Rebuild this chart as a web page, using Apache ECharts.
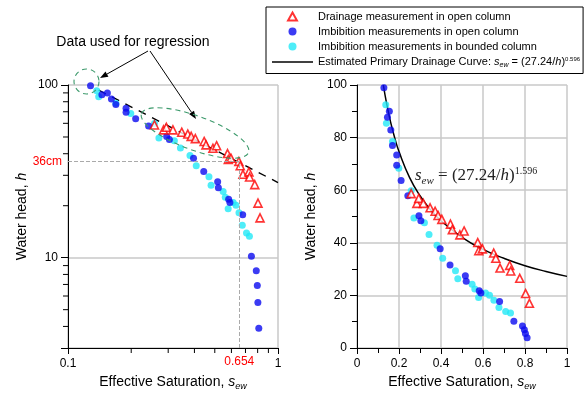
<!DOCTYPE html>
<html><head><meta charset="utf-8">
<script src="https://cdn.jsdelivr.net/npm/echarts@6/dist/echarts.min.js"></script>
<style>html,body{margin:0;padding:0;background:#fff}#c{width:584px;height:394px}</style>
</head><body><div id="c"></div>
<script>
// ---- data (effective saturation s_ew, water head h) ----
const drainageOpen = [[0.258,58.7],[0.285,55],[0.294,56.9],[0.316,55],[0.348,53.3],[0.372,52],[0.386,50.4],[0.404,48.9],[0.445,47.1],[0.454,45],[0.49,43],[0.51,44.5],[0.575,40.1],[0.58,37],[0.597,37.7],[0.651,36.1],[0.661,34.1],[0.681,30.4],[0.727,31.4],[0.732,29.3],[0.775,26.5],[0.803,20.7],[0.821,17]];
const imbibitionOpen = [[0.128,99],[0.145,87.7],[0.154,90],[0.161,82.9],[0.169,77],[0.189,73.4],[0.189,69.5],[0.21,63.7],[0.242,57.9],[0.295,50.3],[0.304,48.4],[0.396,37.7],[0.443,31.6],[0.516,27.5],[0.52,25.4],[0.582,21.8],[0.59,20.9],[0.679,17.7],[0.747,10.2],[0.788,8.4],[0.797,6.9],[0.802,5.5],[0.81,3.9]];
const imbibitionBounded = [[0.137,92.5],[0.14,85.5],[0.169,78.5],[0.199,68.3],[0.258,59.8],[0.271,49.4],[0.321,47.6],[0.343,43.2],[0.381,39.1],[0.408,34.1],[0.469,29.4],[0.48,26.3],[0.548,24.2],[0.561,22.4],[0.579,19.2],[0.612,20.9],[0.631,20.1],[0.652,18.2],[0.676,15.4],[0.708,13.9],[0.731,13.3]];
// estimated primary drainage curve
const curveS = [0.1255,0.14,0.16,0.18,0.2,0.25,0.3,0.35,0.4,0.5,0.6,0.7,0.8,0.9,1.0];
const curveH = [100,93.4,85.9,79.8,74.7,64.9,57.9,52.6,48.4,42.1,37.5,34.1,31.3,29.1,27.24];
const regressionS = [0.14,1.0];
const regressionH = [93.4,27.24];
const refH = 36, refS = 0.654;
// ticks / labels
const logXLabels = [0.1,1];
const logYLabels = [10,100];
const logXMinorTicks = [0.2,0.3,0.4,0.5,0.6,0.7,0.8,0.9];
const logYMinorTicks = [4,5,6,7,8,9,20,30,40,50,60,70,80,90];
const linXTicks = [0,0.2,0.4,0.6,0.8,1];
const linYTicks = [0,20,40,60,80,100];

const N1='Drainage measurement in open column';
const N2='Imbibition measurements in open column';
const N3='Imbibition measurements in bounded column';
const N4='Estimated Primary Drainage Curve';
const FONT='Liberation Sans, Arial, sans-serif';
const SERIF='Liberation Serif, Times New Roman, serif';
const RED='#ff0000', BLUE='#0a0af0', CYAN='#22e8f6', GRID='#c8c8c8';

const chart = echarts.init(document.getElementById('c'), null, {renderer:'canvas'});

const richName = {
  t:{fontSize:14,fontFamily:FONT,color:'#000'},
  i:{fontSize:14,fontFamily:FONT,fontStyle:'italic',color:'#000'},
  sub:{fontSize:9,fontFamily:FONT,fontStyle:'italic',color:'#000',padding:[9,0,0,0]}
};
const isIn = (arr,v)=>arr.some(t=>Math.abs(t-v)<1e-9*Math.max(1,t));

function scatter(name, data, xi, kind){
  const s = {type:'scatter', name, data, xAxisIndex:xi, yAxisIndex:xi, silent:true};
  if (kind==='tri'){ s.symbol='triangle'; s.symbolSize=8; s.itemStyle={color:'#fff', borderColor:RED, borderWidth:1.6}; s.z=4; }
  else { s.symbol='circle'; s.symbolSize=7; s.itemStyle={color: kind==='blue'?BLUE:CYAN}; s.z = kind==='blue'?3:2; }
  return s;
}
const zip = (a,b)=>a.map((v,i)=>[v,b[i]]);

const axisCommon = {
  axisLine:{show:true, onZero:false, lineStyle:{color:'#000', width:1}},
  axisTick:{show:true, inside:false, length:7, lineStyle:{color:'#000'}},
  axisLabel:{color:'#000', fontSize:12, fontFamily:FONT, margin:10},
  splitLine:{show:true, lineStyle:{color:GRID, width:1.5}},
  nameLocation:'middle', nameTextStyle:{rich:richName}
};

const option = {
  animation:false,
  backgroundColor:'#fff',
  textStyle:{fontFamily:FONT},
  grid:[
    {left:68, top:85, width:210, height:263, outerBoundsMode:'none', containLabel:false},
    {left:357, top:85, width:210, height:263, outerBoundsMode:'none', containLabel:false}
  ],
  legend:{
    orient:'vertical', left:266, top:7, padding:[4,3,5,6], itemGap:4,
    itemWidth:41, itemHeight:8, borderColor:'#000', borderWidth:1, selectedMode:false,
    symbolKeepAspect:true,
    data:[
      {name:N1, icon:'path://M5,0 L10,9 L0,9 Z'},
      {name:N2, icon:'circle'},
      {name:N3, icon:'circle'},
      {name:N4, icon:'path://M0,0 L41,0 L41,1.4 L0,1.4 Z', itemStyle:{color:'#000'}}
    ],
    textStyle:{fontSize:11, color:'#000', fontFamily:FONT, rich:{
      i:{fontSize:11,fontStyle:'italic',fontFamily:FONT},
      sub:{fontSize:7,fontStyle:'italic',fontFamily:FONT,padding:[6,0,0,0]},
      sup:{fontSize:6,fontFamily:FONT,padding:[0,0,6,0]}
    }},
    formatter: n => n===N4 ? 'Estimated Primary Drainage Curve: {i|s}{sub|ew} = (27.24/{i|h}){sup|0.596}' : n
  },
  xAxis:[
    Object.assign({}, axisCommon, {type:'log', logBase:10, min:0.1, max:1, gridIndex:0,
      name:'{t|Effective Saturation, }{i|s}{sub|ew}', nameGap:24,
      axisTick:{show:true, inside:false, length:6, lineStyle:{color:'#000'}},
      axisLabel:Object.assign({}, axisCommon.axisLabel, {formatter:v=>isIn(logXLabels,v)?String(+v.toPrecision(3)):''})}),
    Object.assign({}, axisCommon, {type:'value', min:0, max:1, interval:0.2, gridIndex:1,
      name:'{t|Effective Saturation, }{i|s}{sub|ew}', nameGap:24,
      axisTick:{show:true, inside:false, length:6, lineStyle:{color:'#000'}},
      minorTick:{show:true, splitNumber:2, length:5, lineStyle:{color:'#000'}},
      axisLabel:Object.assign({}, axisCommon.axisLabel, {formatter:v=>isIn(linXTicks,v)?String(+v.toFixed(1)):''})})
  ],
  yAxis:[
    Object.assign({}, axisCommon, {type:'log', logBase:10, min:3, max:100, gridIndex:0,
      name:'{t|Water head, }{i|h}', nameGap:39,
      axisLabel:Object.assign({}, axisCommon.axisLabel, {formatter:v=>isIn(logYLabels,v)?String(Math.round(v)):''})}),
    Object.assign({}, axisCommon, {type:'value', min:0, max:100, interval:20, gridIndex:1,
      name:'{t|Water head, }{i|h}', nameGap:39,
      minorTick:{show:true, splitNumber:2, length:5, lineStyle:{color:'#000'}},
      axisLabel:Object.assign({}, axisCommon.axisLabel, {formatter:v=>isIn(linYTicks,v)?String(v):''})})
  ],
  series:[
    // left, log-log
    {type:'line', name:'regression (log)', xAxisIndex:0, yAxisIndex:0, data:zip(regressionS,regressionH),
     showSymbol:false, symbol:'none', silent:true, z:1,
     lineStyle:{color:'#000', width:1.4, type:[8,7]},
     markLine:{silent:true, symbol:['none','none'], animation:false,
       lineStyle:{type:'dashed', color:'#aaa', width:1},
       data:[
         [{coord:[0.1,refH], label:{show:true, position:'start', formatter:'36cm', color:RED, fontSize:12, fontFamily:FONT, distance:6}},{coord:[refS,refH]}],
         [{coord:[refS,3], label:{show:true, position:'start', formatter:String(refS), color:RED, fontSize:12, fontFamily:FONT, distance:8}},{coord:[refS,refH]}]
       ]}},
    scatter(N3, imbibitionBounded, 0, 'cyan'),
    scatter(N2, imbibitionOpen, 0, 'blue'),
    scatter(N1, drainageOpen, 0, 'tri'),
    // right, linear
    {type:'line', name:N4, xAxisIndex:1, yAxisIndex:1, data:zip(curveS,curveH), smooth:true,
     showSymbol:false, symbol:'none', silent:true, z:1, lineStyle:{color:'#000', width:1.5}, itemStyle:{color:'#000'}},
    scatter(N3, imbibitionBounded, 1, 'cyan'),
    scatter(N2, imbibitionOpen, 1, 'blue'),
    scatter(N1, drainageOpen, 1, 'tri')
  ]
};
chart.setOption(option);

// minor ticks on the log axes, placed through the axes' own conversion
const graphics = [];
const yBase = chart.convertToPixel({yAxisIndex:0}, 3);
const xBase = chart.convertToPixel({xAxisIndex:0}, 0.1);
logXMinorTicks.forEach(v=>{
  const px = chart.convertToPixel({xAxisIndex:0}, v);
  graphics.push({type:'line', z:100, shape:{x1:px,y1:yBase,x2:px,y2:yBase+5}, style:{stroke:'#000', lineWidth:1}});
});
logYMinorTicks.forEach(v=>{
  const py = chart.convertToPixel({yAxisIndex:0}, v);
  graphics.push({type:'line', z:100, shape:{x1:xBase-5,y1:py,x2:xBase,y2:py}, style:{stroke:'#000', lineWidth:1}});
});

// annotations
const GREEN='#3d9a6c';
function arrow(x1,y1,x2,y2){
  const dx=x2-x1, dy=y2-y1, L=Math.hypot(dx,dy), ux=dx/L, uy=dy/L, bx=x2-8*ux, by=y2-8*uy, px=-uy, py=ux;
  return [
    {type:'line', shape:{x1,y1,x2:bx,y2:by}, style:{stroke:'#000', lineWidth:1}, silent:true, z:10},
    {type:'polygon', shape:{points:[[x2,y2],[bx+3*px,by+3*py],[bx-3*px,by-3*py]]}, style:{fill:'#000'}, silent:true, z:10}
  ];
}
graphics.push(
  {type:'text', x:133, y:42, silent:true, z:10, style:{text:'Data used for regression', fontSize:14, fontFamily:FONT, fill:'#000', align:'center', verticalAlign:'middle'}},
  ...arrow(148,51,100,78),
  ...arrow(150,51,196,119),
  {type:'circle', shape:{cx:86.5, cy:81.5, r:12.5}, style:{fill:'none', stroke:GREEN, lineWidth:1.1, lineDash:[5,4]}, silent:true, z:10},
  {type:'ellipse', x:195, y:133, rotation:-0.35, shape:{cx:0, cy:0, rx:57, ry:17}, style:{fill:'none', stroke:GREEN, lineWidth:1.1, lineDash:[5,4]}, silent:true, z:10},
  {type:'text', x:415, y:176, silent:true, z:10, style:{
    text:'{i|s}{sub|ew}{t| = (27.24/}{i|h}{t|)}{sup|1.596}', verticalAlign:'middle',
    rich:{
      t:{fontSize:17, fontFamily:SERIF, fill:'#222'},
      i:{fontSize:17, fontFamily:SERIF, fontStyle:'italic', fill:'#222'},
      sub:{fontSize:11, fontFamily:SERIF, fontStyle:'italic', fill:'#222', padding:[10,0,0,0]},
      sup:{fontSize:10, fontFamily:SERIF, fill:'#222', padding:[0,0,10,0]}
    }}}
);
chart.setOption({graphic:graphics});
</script>
</body></html>
